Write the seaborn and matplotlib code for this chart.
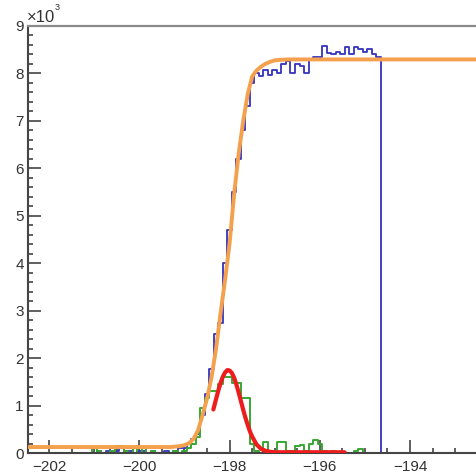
import numpy as np
import pandas as pd
import seaborn as sns
import matplotlib
matplotlib.use("Agg")
import matplotlib.pyplot as plt
from matplotlib.ticker import MultipleLocator, FuncFormatter, FixedLocator

# ---------------------------------------------------------------- data
BIN_WIDTH = 0.1
FIRST_EDGE = -202.45
N_BINS = 100

# measured spectrum (x10^3 counts per bin), bins starting at -201.05
blue_start = -201.05
blue_counts = [
    0.0, 0.05, 0.0, 0.05, 0.10, 0.05, 0.10, 0.0, 0.05, 0.0,
    0.05, 0.05, 0.0, 0.05, 0.0, 0.0, 0.05, 0.0, 0.05, 0.10,
    0.10, 0.20, 0.30, 0.40, 0.80, 1.25, 1.78, 2.50, 2.75, 4.00,
    4.70, 5.50, 6.20, 6.80, 7.30, 7.80, 8.00, 7.95, 8.07, 7.96,
    8.07, 8.00, 8.20, 8.25, 8.00, 8.20, 8.15, 8.00, 8.30, 8.35,
    8.35, 8.58, 8.42, 8.40, 8.45, 8.40, 8.55, 8.40, 8.55, 8.50,
    8.45, 8.50, 8.40, 8.35,
]

# derivative spectrum (x10^3 counts per bin), bins starting at -201.05
green_start = -201.05
green_counts = [
    0.12, 0.05, 0.0, 0.0, 0.05, 0.15, 0.15, 0.05, 0.0, 0.10,
    0.0, 0.10, 0.0, 0.05, 0.0, 0.0, 0.0, 0.0, 0.05, 0.0,
    0.05, 0.10, 0.20, 0.35, 0.95, 1.16, 1.30, 1.30, 1.45, 1.60,
    1.60, 1.47, 1.47, 1.16, 1.16, 0.20, 0.05, 0.0, 0.24, 0.05,
    0.05, 0.24, 0.24, 0.05, 0.05, 0.15, 0.18, 0.05, 0.20, 0.28,
    0.20, 0.05, 0.0, 0.05, 0.0, 0.0, 0.0, 0.0, 0.05, 0.08,
    0.0,
]

# edge fit (orange)
edge_fit_x = [-202.5, -199.3, -199.1, -199.0, -198.9, -198.8, -198.7, -198.6,
              -198.5, -198.4, -198.3, -198.2, -198.1, -198.0, -197.9, -197.8,
              -197.7, -197.6, -197.5, -197.4, -197.3, -197.2, -197.1, -197.0,
              -196.9, -196.7, -192.4]
edge_fit_y = [0.13, 0.13, 0.15, 0.17, 0.21, 0.30, 0.48, 0.80,
              1.15, 1.60, 2.20, 2.95, 3.65, 4.42, 5.45, 6.30,
              6.98, 7.55, 7.93, 8.06, 8.14, 8.20, 8.24, 8.27,
              8.28, 8.29, 8.29]

# peak fit (red)
peak_fit_x = [-198.36, -198.3, -198.25, -198.2, -198.15, -198.1, -198.05, -198.0,
              -197.95, -197.9, -197.85, -197.8, -197.75, -197.7, -197.65, -197.6,
              -197.55, -197.5, -197.4, -197.3, -197.2, -197.1, -197.0, -195.45]
peak_fit_y = [0.92, 1.14, 1.32, 1.48, 1.61, 1.70, 1.75, 1.74,
              1.69, 1.59, 1.45, 1.28, 1.10, 0.92, 0.75, 0.60,
              0.46, 0.35, 0.18, 0.09, 0.05, 0.03, 0.02, 0.02]

x_major_ticks = [-202, -200, -198, -196, -194]


def padded(start, counts):
    """Place counts on the common bin grid, zero elsewhere."""
    full = np.zeros(N_BINS)
    i0 = int(round((start - FIRST_EDGE) / BIN_WIDTH))
    full[i0:i0 + len(counts)] = counts
    return full


centers = FIRST_EDGE + BIN_WIDTH * (np.arange(N_BINS) + 0.5)
hist_df = pd.DataFrame({
    "x": centers,
    "blue": padded(blue_start, blue_counts),
    "green": padded(green_start, green_counts),
})
bin_range = (FIRST_EDGE, FIRST_EDGE + N_BINS * BIN_WIDTH)

# ---------------------------------------------------------------- figure
sns.set_theme(style="ticks")
plt.rcParams["font.family"] = ["Liberation Sans", "DejaVu Sans"]

W, H = 477, 475
fig = plt.figure(figsize=(W / 100, H / 100), dpi=100)
x_lo, x_hi = -202.47, -192.45
px_per_unit = 45.1
ax_left, ax_bottom_px, ax_top_px = 28, 453.2, 25.7
ax = fig.add_axes([ax_left / W, (H - ax_bottom_px) / H,
                   (x_hi - x_lo) * px_per_unit / W, (ax_bottom_px - ax_top_px) / H])
ax.set_facecolor("white")

sns.histplot(data=hist_df, x="x", weights="blue", bins=N_BINS, binrange=bin_range,
             element="step", fill=False, color="#3434c0", linewidth=1.3, ax=ax,
             zorder=2)
sns.histplot(data=hist_df, x="x", weights="green", bins=N_BINS, binrange=bin_range,
             element="step", fill=False, color="#38a832", linewidth=1.4, ax=ax,
             zorder=2)
sns.lineplot(x=edge_fit_x, y=edge_fit_y, color="#f5a04c", linewidth=2.8,
             ax=ax, zorder=3)
sns.lineplot(x=peak_fit_x, y=peak_fit_y, color="#ee1c1c", linewidth=3.0,
             ax=ax, zorder=4)

ax.set_xlim(x_lo, x_hi)
ax.set_ylim(0, 9)
ax.set_xlabel("")
ax.set_ylabel("")

ax.xaxis.set_major_locator(FixedLocator(x_major_ticks))
ax.xaxis.set_minor_locator(MultipleLocator(0.5))
ax.yaxis.set_major_locator(MultipleLocator(1))
ax.yaxis.set_minor_locator(MultipleLocator(0.2))
ax.xaxis.set_major_formatter(FuncFormatter(lambda v, p: f"\u2212{abs(v):.0f}"))
ax.yaxis.set_major_formatter(FuncFormatter(lambda v, p: f"{v:.0f}"))

tick_col = "#444444"
ax.tick_params(which="both", direction="in", color=tick_col, width=1.2,
               top=False, right=False, labelcolor="#333333", labelsize=11)
ax.tick_params(which="major", length=9.5)
ax.tick_params(which="minor", length=3.8)
ax.tick_params(axis="x", which="both", pad=5)
ax.tick_params(axis="y", which="both", pad=3)

for side in ["left", "bottom"]:
    ax.spines[side].set_color(tick_col)
    ax.spines[side].set_linewidth(1.5)
ax.spines["top"].set_color("#8a8a8a")
ax.spines["top"].set_linewidth(1.6)
ax.spines["right"].set_visible(False)

# axis multiplier
fig.text(27 / W, 1 - 22 / H, "\u00d710", fontsize=12, color="#333333",
         ha="left", va="baseline")
fig.text(55 / W, 1 - 10 / H, "3", fontsize=6.5, color="#333333",
         ha="left", va="baseline")

fig.savefig("out.png", dpi=100)
